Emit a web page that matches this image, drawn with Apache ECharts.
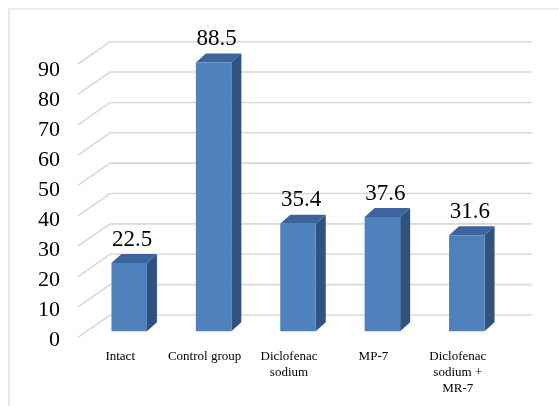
<!DOCTYPE html>
<html>
<head>
<meta charset="utf-8">
<script src="https://cdn.jsdelivr.net/npm/echarts@6/dist/echarts.min.js"></script>
<style>
html,body{margin:0;padding:0;background:#fff;}
#chart{width:559px;height:406px;}
</style>
</head>
<body>
<div id="chart"></div>
<script>
const categories = ['Intact', 'Control group', 'Diclofenac\nsodium', 'MP-7', 'Diclofenac\nsodium +\nMR-7'];
const values = [22.5, 88.5, 35.4, 37.6, 31.6];
const yTicks = [0, 10, 20, 30, 40, 50, 60, 70, 80, 90];
const yMin = 0, yMax = 90, yStep = 10;

const FONT = 'Liberation Serif';
const WALL = [32, -22.3];   // depth of the back wall
const BAR_OFF = [9, -6];    // bar front face offset from front plane
const BAR_DEPTH = [10, -9];
const BAR_W = 35.5;

const chart = echarts.init(document.getElementById('chart'), null, {renderer: 'canvas'});

function gridLines(params, api) {
  const cs = params.coordSys;
  const v = api.value(1);
  const p = api.coord([0, v]);
  const y = p[1];
  const x0 = cs.x, x1 = cs.x + cs.width;
  const style = {stroke: '#d9d9d9', lineWidth: 1.6, fill: null};
  return {
    type: 'polyline',
    shape: {points: [[x0, y], [x0 + WALL[0], y + WALL[1]], [x1 + WALL[0], y + WALL[1]]]},
    style: style
  };
}

function bars(params, api) {
  const idx = api.value(0);
  const v = api.value(1);
  const top = api.coord([idx, v]);
  const bot = api.coord([idx, 0]);
  const cx = top[0] + BAR_OFF[0];
  const yt = top[1] + BAR_OFF[1];
  const yb = bot[1] + BAR_OFF[1];
  const xl = cx - BAR_W / 2, xr = cx + BAR_W / 2;
  const dx = BAR_DEPTH[0], dy = BAR_DEPTH[1];
  return {
    type: 'group',
    children: [
      {type: 'polygon', shape: {points: [[xr, yb], [xr + dx, yb + dy], [xr + dx, yt + dy], [xr, yt]]}, style: {fill: '#31527f'}},
      {type: 'polygon', shape: {points: [[xl, yt], [xl + dx, yt + dy], [xr + dx, yt + dy], [xr, yt]]}, style: {fill: '#3c659d'}},
      {type: 'rect', shape: {x: xl, y: yt, width: BAR_W, height: yb - yt}, style: {fill: '#4f81bd'}},
      {type: 'text', x: cx + 3, y: yt + dy - 3,
        style: {text: String(v), font: '23px "' + FONT + '"', fill: '#000', align: 'center', verticalAlign: 'bottom'}}
    ]
  };
}

chart.setOption({
  animation: false,
  backgroundColor: '#fff',
  graphic: [
    {type: 'rect', shape: {x: 9, y: 9, width: 700, height: 600}, style: {fill: null, stroke: '#d9d9d9', lineWidth: 1.2}, z: -10}
  ],
  grid: [
    {left: 78, top: 64, width: 422, height: 273.3},
    {left: 78, top: 70.3, width: 422, height: 269.7}
  ],
  xAxis: [
    {
      type: 'category',
      gridIndex: 0,
      data: categories,
      axisLine: {show: false},
      axisTick: {show: false},
      axisLabel: {interval: 0, fontFamily: FONT, fontSize: 13, color: '#000', lineHeight: 16, margin: 11}
    },
    {
      type: 'category',
      gridIndex: 1,
      data: categories,
      show: false
    }
  ],
  yAxis: [
    {
      type: 'value',
      gridIndex: 0,
      min: yMin, max: yMax, interval: yStep,
      splitLine: {show: false},
      axisLine: {show: false},
      axisTick: {show: false},
      axisLabel: {show: false}
    },
    {
      type: 'value',
      gridIndex: 1,
      min: yMin, max: yMax, interval: yStep,
      splitLine: {show: false},
      axisLine: {show: false},
      axisTick: {show: false},
      axisLabel: {fontFamily: FONT, fontSize: 22, color: '#000', margin: 18}
    }
  ],
  series: [
    {
      type: 'custom',
      xAxisIndex: 0, yAxisIndex: 0,
      renderItem: gridLines,
      data: yTicks.map(t => [0, t]),
      clip: false,
      silent: true,
      z: 1
    },
    {
      type: 'custom',
      xAxisIndex: 0, yAxisIndex: 0,
      renderItem: bars,
      data: values.map((v, i) => [i, v]),
      clip: false,
      z: 5
    }
  ]
});
</script>
</body>
</html>
